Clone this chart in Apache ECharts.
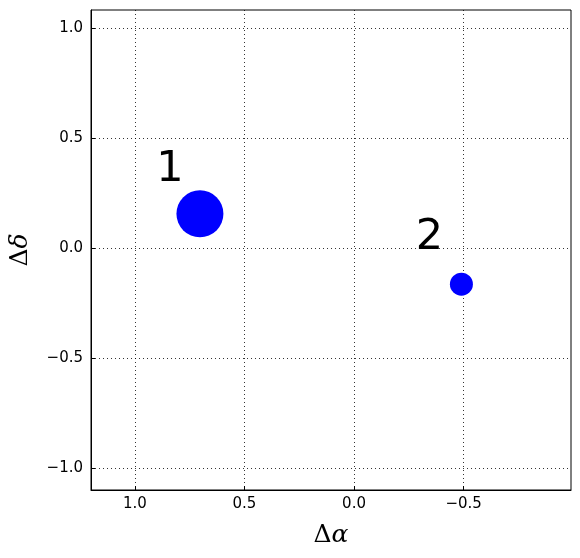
<!DOCTYPE html>
<html><head><meta charset="utf-8">
<script src="https://cdn.jsdelivr.net/npm/echarts@6/dist/echarts.min.js"></script>
<style>html,body{margin:0;padding:0;background:#fff}#c{width:580px;height:558px}</style>
</head><body><div id="c"></div>
<script>
const pointX = [0.703, -0.49];
const pointY = [0.156, -0.164];
const pointSize = [47, 23];
const labelText = ['1', '2'];
const labelX = [0.84, -0.344];
const labelY = [0.358, 0.045];
const xTicks = [1.0, 0.5, 0.0, -0.5];
const yTicks = [-1.0, -0.5, 0.0, 0.5, 1.0];

const fmt = v => (Math.abs(v) < 1e-9 ? '0.0' : v.toFixed(1).replace('-', '\u2212'));
const chart = echarts.init(document.getElementById('c'), null, {renderer: 'canvas'});
const gridLine = {show: true, lineStyle: {color: '#000', type: [1, 3], width: 0.8}};
chart.setOption({
  animation: false,
  backgroundColor: '#fff',
  grid: {left: 91, top: 10, width: 480, height: 480, containLabel: false, outerBoundsMode: 'none', show: true, borderColor: '#000', borderWidth: 1, backgroundColor: 'transparent'},
  xAxis: {
    type: 'value', min: -0.99, max: 1.2, inverse: true,
    axisLine: {show: true, onZero: false, lineStyle: {color: '#000', width: 1}},
    axisTick: {show: true, inside: true, length: 4, customValues: xTicks, lineStyle: {color: '#000'}},
    axisLabel: {customValues: xTicks, formatter: fmt, color: '#000', fontFamily: 'DejaVu Sans', fontSize: 15, margin: 7},
    splitLine: gridLine,
    name: '{d|\u0394}{a|\u03b1}', nameLocation: 'middle', nameGap: 33,
    nameTextStyle: {rich: {d: {fontFamily: 'DejaVu Serif', fontSize: 25, color: '#000'}, a: {fontFamily: 'DejaVu Serif', fontStyle: 'italic', fontSize: 25, color: '#000'}}}
  },
  yAxis: {
    type: 'value', min: -1.10, max: 1.083,
    axisLine: {show: true, onZero: false, lineStyle: {color: '#000', width: 1}},
    axisTick: {show: true, inside: true, length: 4, customValues: yTicks, lineStyle: {color: '#000'}},
    axisLabel: {customValues: yTicks, formatter: fmt, color: '#000', fontFamily: 'DejaVu Sans', fontSize: 15, margin: 8},
    splitLine: gridLine,
    name: '{d|\u0394}{a|\u03b4}', nameLocation: 'middle', nameGap: 58, nameRotate: 90,
    nameTextStyle: {rich: {d: {fontFamily: 'DejaVu Serif', fontSize: 25, color: '#000'}, a: {fontFamily: 'DejaVu Serif', fontStyle: 'italic', fontSize: 25, color: '#000'}}}
  },
  series: [
    {
      type: 'scatter',
      data: pointX.map((x, i) => [x, pointY[i], pointSize[i]]),
      symbolSize: d => d[2],
      itemStyle: {color: '#0000ff', opacity: 1},
      z: 3
    },
    {
      type: 'scatter',
      data: labelX.map((x, i) => ({value: [x, labelY[i]], name: labelText[i]})),
      symbolSize: 0,
      itemStyle: {opacity: 1},
      label: {show: true, position: 'inside', formatter: p => p.name, fontFamily: 'DejaVu Sans', fontSize: 43, color: '#000', opacity: 1, align: 'center', verticalAlign: 'middle'},
      z: 4
    }
  ]
});
</script></body></html>
